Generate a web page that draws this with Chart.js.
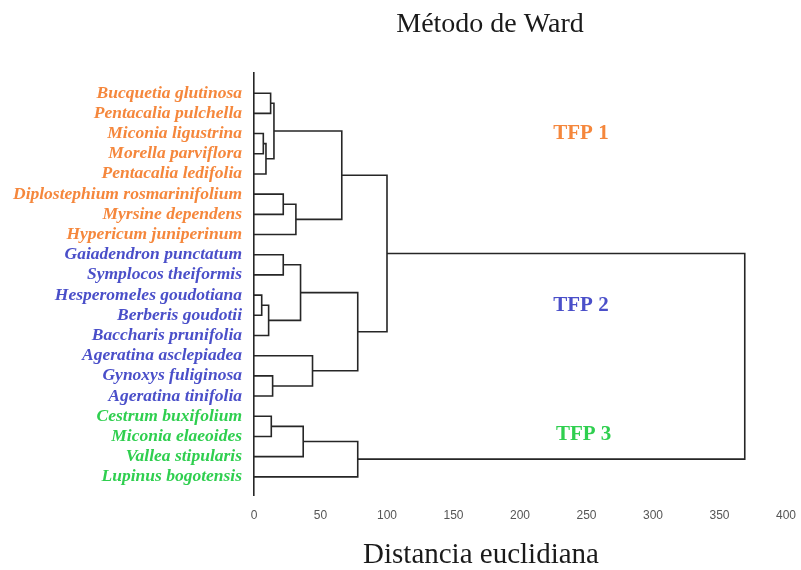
<!DOCTYPE html>
<html>
<head>
<meta charset="utf-8">
<script src="https://cdn.jsdelivr.net/npm/chart.js@4.4.1/dist/chart.umd.min.js"></script>
<style>
  html, body { margin: 0; padding: 0; background: #fff; }
  #wrap { width: 801px; height: 570px; }
</style>
</head>
<body>
<div id="wrap"><canvas id="dendro" width="801" height="570"></canvas></div>
<script>
// leaves, top to bottom
const leafNames = [
    'Bucquetia glutinosa', 'Pentacalia pulchella', 'Miconia ligustrina', 'Morella parviflora',
    'Pentacalia ledifolia', 'Diplostephium rosmarinifolium', 'Myrsine dependens', 'Hypericum juniperinum',
    'Gaiadendron punctatum', 'Symplocos theiformis', 'Hesperomeles goudotiana', 'Berberis goudotii',
    'Baccharis prunifolia', 'Ageratina asclepiadea', 'Gynoxys fuliginosa', 'Ageratina tinifolia',
    'Cestrum buxifolium', 'Miconia elaeoides', 'Vallea stipularis', 'Lupinus bogotensis'
];
const leafGroup = [0, 0, 0, 0, 0, 0, 0, 0, 1, 1, 1, 1, 1, 1, 1, 1, 2, 2, 2, 2];
const groupNames = ['TFP 1', 'TFP 2', 'TFP 3'];
const groupColors = ['#f5873c', '#4a4fc9', '#2fcf4f'];

// merges (node 20 + k joins mergeLeft[k] and mergeRight[k])
const mergeLeft   = [10, 2, 21, 20, 0, 16, 14, 24, 5, 8, 28, 29, 25, 13, 27, 31, 32, 34, 37];
const mergeRight  = [11, 3, 4, 12, 1, 17, 15, 22, 6, 9, 7, 23, 18, 26, 30, 33, 19, 35, 36];
const mergeHeight = [5.8, 7, 9, 11, 12.5, 13, 14, 15, 22, 22, 31.5, 35, 37, 44, 66, 78, 78, 100, 369];

const xTicks = [0, 50, 100, 150, 200, 250, 300, 350, 400];

// build one U-shaped line per merge
const nodeX = leafNames.map(() => 0);
const nodeY = leafNames.map((_, i) => i);
const datasets = mergeHeight.map((h, k) => {
    const a = mergeLeft[k], b = mergeRight[k];
    nodeX.push(h);
    nodeY.push((nodeY[a] + nodeY[b]) / 2);
    return {
        data: [
            { x: nodeX[a], y: nodeY[a] },
            { x: h, y: nodeY[a] },
            { x: h, y: nodeY[b] },
            { x: nodeX[b], y: nodeY[b] }
        ],
        showLine: true,
        borderColor: '#262626',
        borderWidth: 1.6,
        pointRadius: 0,
        tension: 0
    };
});

// titles and cluster names
const textPlugin = {
    id: 'textPlugin',
    afterDraw(chart) {
        const ctx = chart.ctx;
        const xs = chart.scales.x, ys = chart.scales.y;
        ctx.save();
        ctx.fillStyle = '#1a1a1a';
        ctx.textAlign = 'center';
        ctx.textBaseline = 'middle';
        ctx.font = '28px "Liberation Serif", "Times New Roman", serif';
        ctx.fillText('Método de Ward', 490, 25);
        ctx.font = '29px "Liberation Serif", "Times New Roman", serif';
        ctx.fillText('Distancia euclidiana', 481, 555);

        const spots = [[225, 2], [225, 10.5], [227, 16.9]];
        ctx.textAlign = 'left';
        ctx.font = 'bold 21px "Liberation Serif", "Times New Roman", serif';
        groupNames.forEach((name, i) => {
            ctx.fillStyle = groupColors[i];
            ctx.fillText(name, xs.getPixelForValue(spots[i][0]), ys.getPixelForValue(spots[i][1]));
        });
        ctx.restore();
    }
};

new Chart(document.getElementById('dendro').getContext('2d'), {
    type: 'scatter',
    data: { datasets: datasets },
    options: {
        responsive: false,
        animation: false,
        layout: { padding: { top: 73, right: 8, bottom: 0, left: 0 } },
        plugins: {
            legend: { display: false },
            tooltip: { enabled: false }
        },
        scales: {
            x: {
                type: 'linear',
                min: 0,
                max: 400,
                afterBuildTicks: s => { s.ticks = xTicks.map(v => ({ value: v })); },
                afterFit: s => { s.height = 75; },
                grid: { display: false },
                border: { display: false },
                ticks: {
                    color: '#555',
                    padding: 5,
                    font: { family: '"Liberation Sans", Arial, sans-serif', size: 12 }
                }
            },
            y: {
                type: 'linear',
                reverse: true,
                min: -1,
                max: 19.9,
                afterBuildTicks: s => { s.ticks = leafNames.map((_, i) => ({ value: i })); },
                afterFit: s => { s.width = 254; },
                grid: { display: false },
                border: { display: true, color: '#262626', width: 1.6 },
                ticks: {
                    padding: 4,
                    autoSkip: false,
                    callback: v => leafNames[v] || '',
                    color: c => groupColors[leafGroup[c.index]],
                    font: { family: '"Liberation Serif", "Times New Roman", serif', size: 17.5, style: 'italic', weight: 'bold' }
                }
            }
        }
    },
    plugins: [textPlugin]
});
</script>
</body>
</html>
